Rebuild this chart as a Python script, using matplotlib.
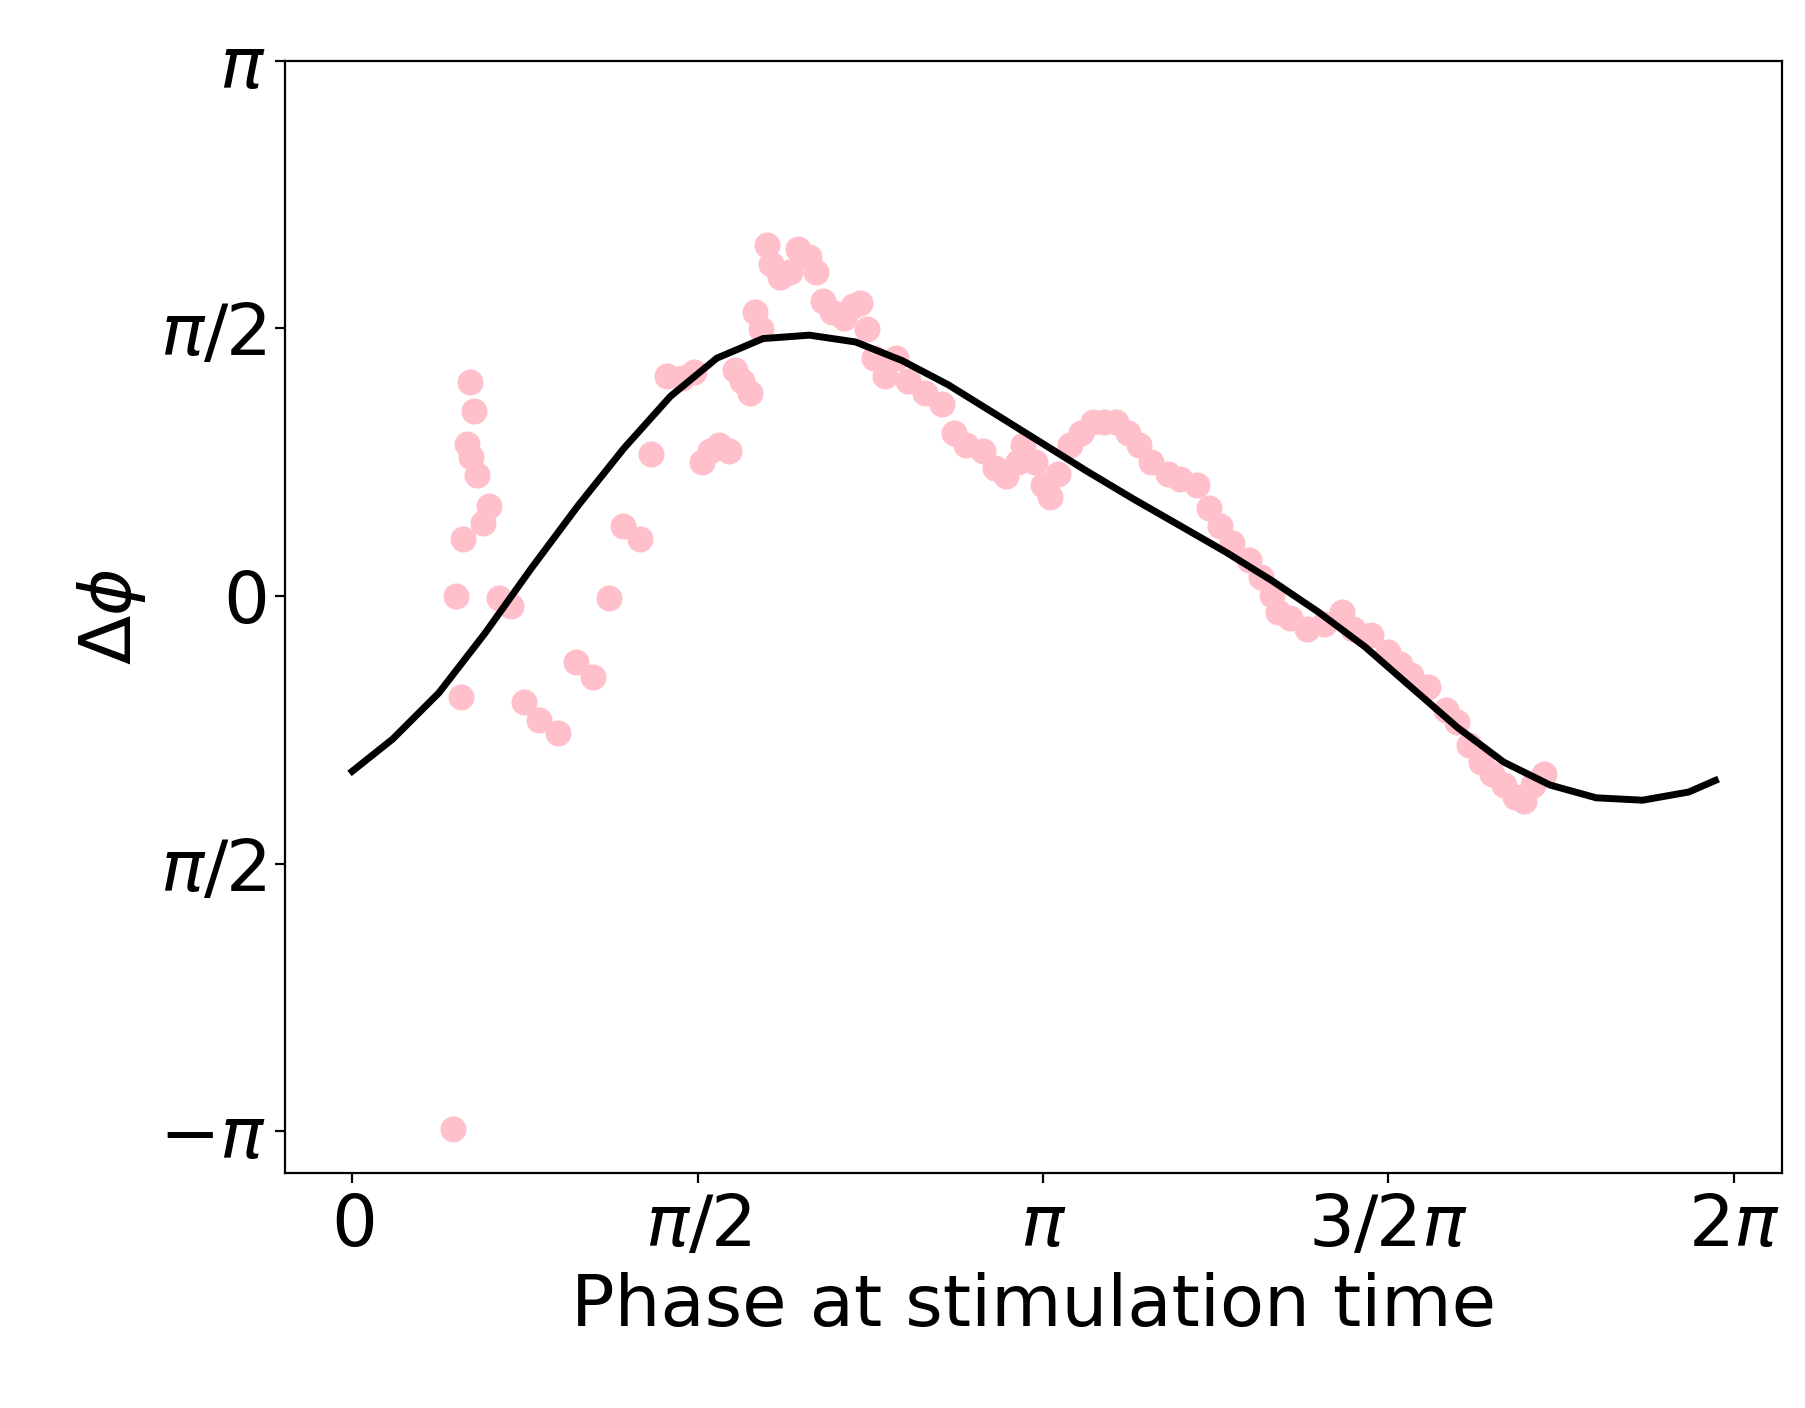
import numpy as np
import matplotlib.pyplot as plt

# fitted curve
curve_x = [0, 0.184, 0.394, 0.605, 0.815, 1.026, 1.236, 1.447, 1.658, 1.868, 2.079,
           2.289, 2.500, 2.710, 2.921, 3.131, 3.342, 3.552, 3.763, 3.973, 4.184,
           4.394, 4.605, 4.815, 5.026, 5.236, 5.447, 5.657, 5.868, 6.078, 6.199]
curve_y = [-1.029, -0.840, -0.569, -0.217, 0.163, 0.528, 0.867, 1.171, 1.395, 1.510, 1.530,
           1.490, 1.381, 1.239, 1.070, 0.901, 0.731, 0.569, 0.413, 0.257, 0.088,
           -0.095, -0.298, -0.535, -0.772, -0.975, -1.110, -1.185, -1.199, -1.151, -1.083]

# measured phase shifts
pts_x = [0.458, 0.473, 0.495, 0.505, 0.521, 0.537, 0.542, 0.553, 0.568, 0.595, 0.621,
         0.668, 0.721, 0.779, 0.847, 0.937, 1.016, 1.094, 1.168, 1.231, 1.310, 1.358,
         1.431, 1.500, 1.552, 1.589, 1.626, 1.668, 1.715, 1.742, 1.773, 1.810, 1.831,
         1.857, 1.884, 1.905, 1.947, 1.989, 2.026, 2.079, 2.110, 2.142, 2.184, 2.237,
         2.279, 2.310, 2.342, 2.373, 2.421, 2.473, 2.526, 2.605, 2.684, 2.736, 2.789,
         2.868, 2.921, 2.973, 3.026, 3.052, 3.105, 3.141, 3.173, 3.210, 3.262, 3.315,
         3.368, 3.420, 3.473, 3.526, 3.578, 3.631, 3.710, 3.763, 3.842, 3.894, 3.947,
         4.000, 4.078, 4.131, 4.184, 4.210, 4.263, 4.342, 4.421, 4.500, 4.552, 4.631,
         4.710, 4.763, 4.815, 4.894, 4.973, 5.026, 5.078, 5.131, 5.184, 5.236, 5.289,
         5.331, 5.368, 5.420]
pts_y = [-3.128, 0.0, -0.596, 0.332, 0.894, 1.253, 0.813, 1.083, 0.711, 0.427, 0.528,
         -0.014, -0.061, -0.623, -0.731, -0.806, -0.386, -0.474, -0.014, 0.413, 0.332, 0.833,
         1.293, 1.280, 1.314, 0.785, 0.853, 0.887, 0.853, 1.327, 1.259, 1.192, 1.666,
         1.564, 2.058, 1.950, 1.869, 1.903, 2.038, 1.991, 1.903, 1.733, 1.666, 1.632,
         1.700, 1.720, 1.564, 1.395, 1.293, 1.395, 1.259, 1.192, 1.124, 0.955, 0.887,
         0.853, 0.752, 0.704, 0.785, 0.887, 0.785, 0.650, 0.582, 0.718, 0.887, 0.955,
         1.022, 1.022, 1.022, 0.955, 0.887, 0.785, 0.718, 0.684, 0.650, 0.515, 0.413,
         0.311, 0.210, 0.108, 0.007, -0.095, -0.129, -0.196, -0.163, -0.095, -0.196, -0.230,
         -0.332, -0.399, -0.467, -0.535, -0.670, -0.738, -0.873, -0.975, -1.043, -1.110, -1.178,
         -1.205, -1.110, -1.043]

xticks = [0, np.pi / 2, np.pi, 3 * np.pi / 2, 2 * np.pi]
xticklabels = [r"$0$", r"$\pi/2$", r"$\pi$", r"$3/2\pi$", r"$2\pi$"]
yticks = [np.pi, np.pi / 2, 0, -np.pi / 2, -np.pi]
yticklabels = [r"$\pi$", r"$\pi/2$", r"$0$", r"$\pi/2$", r"$-\pi$"]

fig = plt.figure(figsize=(9.025, 7.04), dpi=200)
ax = fig.add_axes([0.158, 0.167, 0.829, 0.790])

ax.scatter(pts_x, pts_y, s=70, color="pink", zorder=1)
ax.plot(curve_x, curve_y, color="black", linewidth=2.5, zorder=2)

ax.set_xlim(-0.305, 6.50)
ax.set_ylim(-3.386, np.pi)
ax.set_xticks(xticks)
ax.set_xticklabels(xticklabels)
ax.set_yticks(yticks)
ax.set_yticklabels(yticklabels)
ax.tick_params(labelsize=26)
ax.set_xlabel("Phase at stimulation time", fontsize=26)
ax.set_ylabel(r"$\Delta\phi$", fontsize=26)

fig.savefig("out.png", dpi=200)
